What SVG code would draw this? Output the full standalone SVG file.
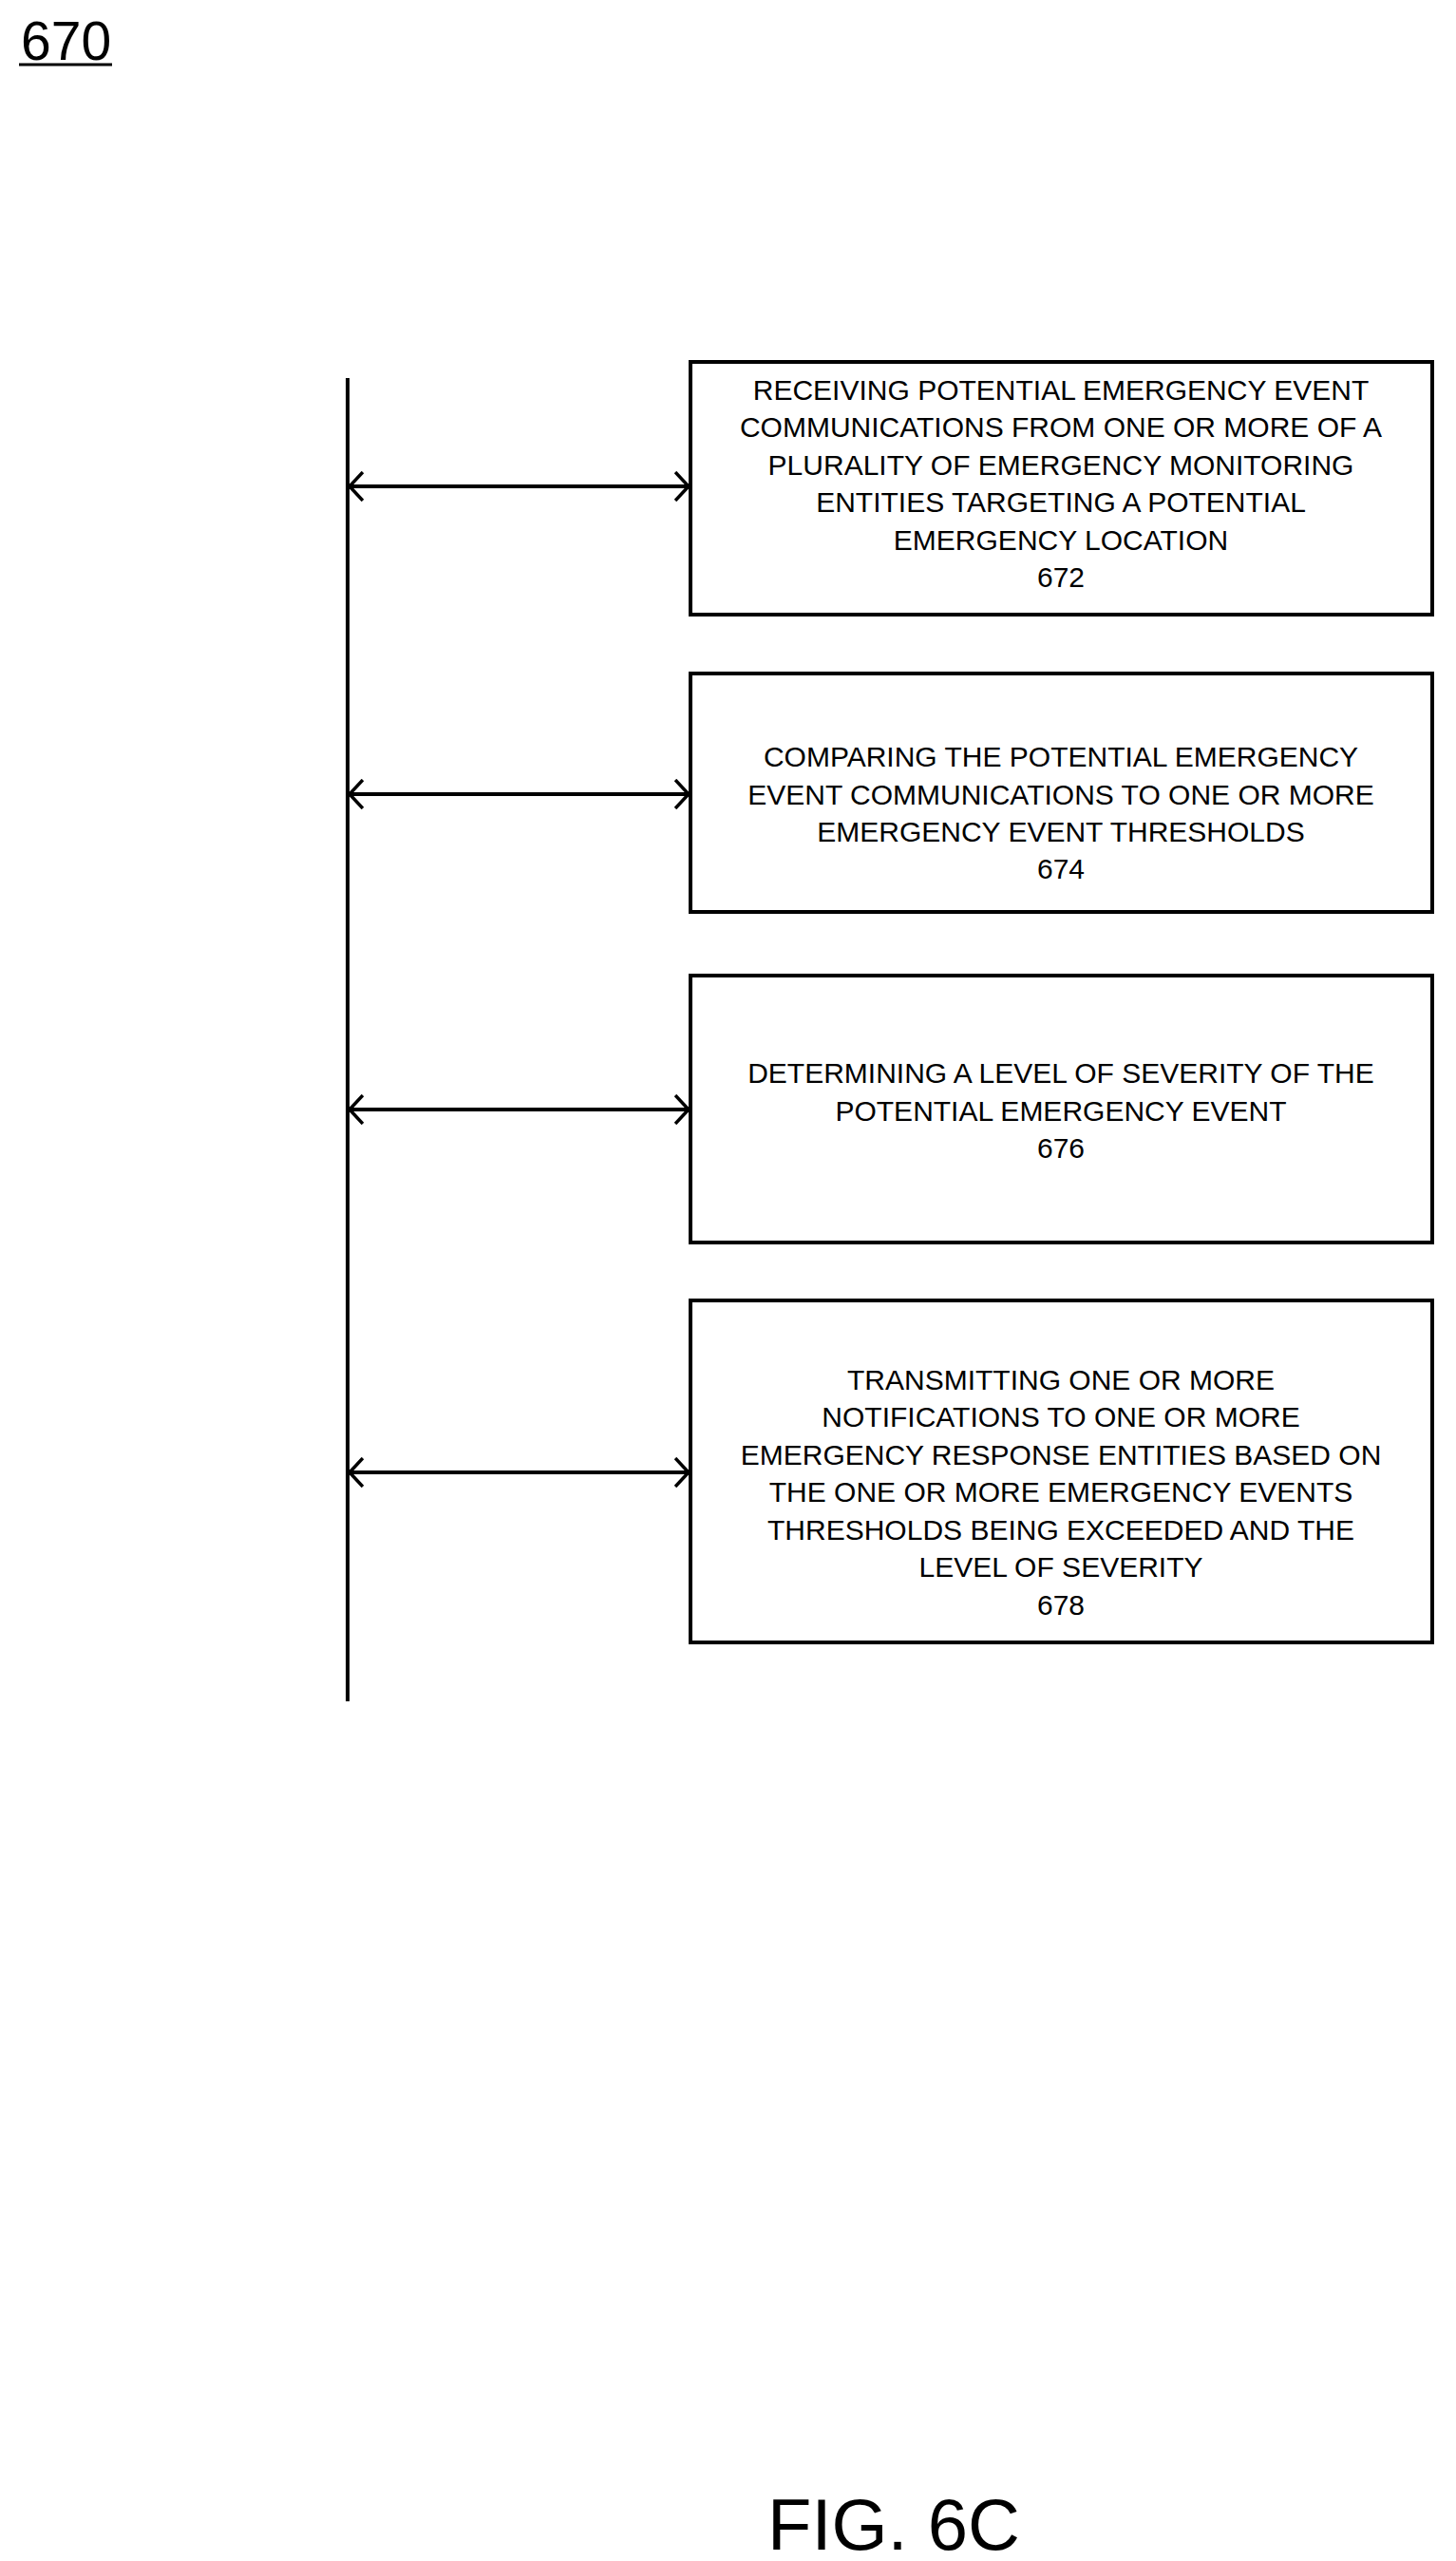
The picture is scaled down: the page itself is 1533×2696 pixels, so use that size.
<svg xmlns="http://www.w3.org/2000/svg" width="1533" height="2696" viewBox="0 0 1533 2696">
<style>
.b{fill:#fff;stroke:#000;stroke-width:4}
.t{font-family:"Liberation Sans",Arial,sans-serif;font-size:30px;text-anchor:middle;fill:#000}
.c{stroke:#000;stroke-width:4;fill:none}
</style>
<defs>
<marker id="a" viewBox="0 0 16 32" refX="15" refY="16" markerWidth="16" markerHeight="32" orient="auto-start-reverse" markerUnits="userSpaceOnUse">
<path d="M1,1 L15,16 L1,31" fill="none" stroke="#000" stroke-width="3.5"/>
</marker>
</defs>
<rect width="1533" height="2696" fill="#fff"/>
<text x="22" y="63" font-family="Liberation Sans,Arial,sans-serif" font-size="57">670</text>
<line x1="20" y1="68" x2="118" y2="68" stroke="#000" stroke-width="3"/>
<g id="connectors">
<line class="c" x1="366" y1="398" x2="366" y2="1791"/>
<line class="c" x1="368" y1="512" x2="725" y2="512" marker-start="url(#a)" marker-end="url(#a)"/>
<line class="c" x1="368" y1="836" x2="725" y2="836" marker-start="url(#a)" marker-end="url(#a)"/>
<line class="c" x1="368" y1="1168" x2="725" y2="1168" marker-start="url(#a)" marker-end="url(#a)"/>
<line class="c" x1="368" y1="1550" x2="725" y2="1550" marker-start="url(#a)" marker-end="url(#a)"/>
</g>
<g id="n672">
<rect class="b" x="727" y="381" width="781" height="266"/>
<text class="t" x="1117" y="421">RECEIVING POTENTIAL EMERGENCY EVENT</text>
<text class="t" x="1117" y="460">COMMUNICATIONS FROM ONE OR MORE OF A</text>
<text class="t" x="1117" y="500">PLURALITY OF EMERGENCY MONITORING</text>
<text class="t" x="1117" y="539">ENTITIES TARGETING A POTENTIAL</text>
<text class="t" x="1117" y="579">EMERGENCY LOCATION</text>
<text class="t" x="1117" y="618">672</text>
</g>
<g id="n674">
<rect class="b" x="727" y="709" width="781" height="251"/>
<text class="t" x="1117" y="807">COMPARING THE POTENTIAL EMERGENCY</text>
<text class="t" x="1117" y="847">EVENT COMMUNICATIONS TO ONE OR MORE</text>
<text class="t" x="1117" y="886">EMERGENCY EVENT THRESHOLDS</text>
<text class="t" x="1117" y="925">674</text>
</g>
<g id="n676">
<rect class="b" x="727" y="1027" width="781" height="281"/>
<text class="t" x="1117" y="1140">DETERMINING A LEVEL OF SEVERITY OF THE</text>
<text class="t" x="1117" y="1180">POTENTIAL EMERGENCY EVENT</text>
<text class="t" x="1117" y="1219">676</text>
</g>
<g id="n678">
<rect class="b" x="727" y="1369" width="781" height="360"/>
<text class="t" x="1117" y="1463">TRANSMITTING ONE OR MORE</text>
<text class="t" x="1117" y="1502">NOTIFICATIONS TO ONE OR MORE</text>
<text class="t" x="1117" y="1542">EMERGENCY RESPONSE ENTITIES BASED ON</text>
<text class="t" x="1117" y="1581">THE ONE OR MORE EMERGENCY EVENTS</text>
<text class="t" x="1117" y="1621">THRESHOLDS BEING EXCEEDED AND THE</text>
<text class="t" x="1117" y="1660">LEVEL OF SEVERITY</text>
<text class="t" x="1117" y="1700">678</text>
</g>
<text x="941" y="2684" font-family="Liberation Sans,Arial,sans-serif" font-size="76" text-anchor="middle">FIG. 6C</text>
</svg>
